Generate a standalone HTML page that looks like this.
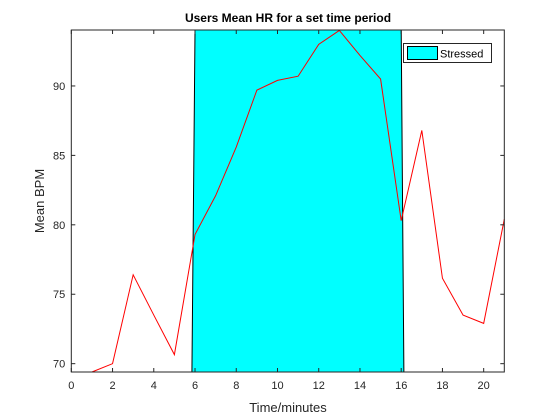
<!DOCTYPE html>
<html><head><meta charset="utf-8"><style>body{margin:0;background:#fff}svg{display:block;font-family:"Liberation Sans",Arial,sans-serif}</style></head>
<body>
<svg id="chart" width="555" height="419" viewBox="0 0 555 419" xmlns="http://www.w3.org/2000/svg"></svg>
<script>
const minutes=[1,2,3,4,5,6,7,8,9,10,11,12,13,14,15,16,17,18,19,20,21];
const meanBpm=[69.4,70.0,76.4,73.5,70.65,79.3,82.1,85.6,89.7,90.4,90.7,93.0,94.0,92.2,90.5,80.3,86.8,76.15,73.5,72.9,80.4];
const stressStart=6, stressEnd=16;
const xTicks=[0,2,4,6,8,10,12,14,16,18,20];
const yTicks=[70,75,80,85,90];
const X0=71.3,X1=504.3,Y0=372,Y1=30,xMin=0,xMax=21,yMin=69.4,yMax=94.03;
const sx=v=>X0+(v-xMin)/(xMax-xMin)*(X1-X0);
const sy=v=>Y0-(v-yMin)/(yMax-yMin)*(Y0-Y1);
const svg=document.getElementById('chart');const NS='http://www.w3.org/2000/svg';
function mk(t,a,p){const e=document.createElementNS(NS,t);for(const k in a)e.setAttribute(k,a[k]);(p||svg).appendChild(e);return e;}
let e;
e=mk('rect',{x:X0,y:Y1,width:X1-X0,height:Y0-Y1,fill:'#fff'});


e=mk('polygon',{points:`${sx(stressStart-0.15)},${Y0} ${sx(stressStart)},${Y1} ${sx(stressEnd)},${Y1} ${sx(stressEnd+0.13)},${Y0}`,fill:'#00ffff',stroke:'#000','stroke-width':1});


e=mk('polyline',{points:minutes.map((m,i)=>`${sx(m)},${sy(meanBpm[i])}`).join(' '),fill:'none',stroke:'#ff0000','stroke-width':1});


const ax=mk('g',{stroke:'#262626','stroke-width':1,fill:'none'});


mk('rect',{x:X0,y:Y1,width:X1-X0,height:Y0-Y1},ax);
xTicks.forEach(t=>{const x=sx(t);mk('line',{x1:x,y1:Y0,x2:x,y2:Y0-4},ax);mk('line',{x1:x,y1:Y1,x2:x,y2:Y1+4},ax);
e=mk('text',{x:x,y:Y0+17,'text-anchor':'middle','font-size':11,fill:'#262626'});e.textContent=t;

});
yTicks.forEach(t=>{const y=sy(t);mk('line',{x1:X0,y1:y,x2:X0+4,y2:y},ax);mk('line',{x1:X1,y1:y,x2:X1-4,y2:y},ax);
e=mk('text',{x:X0-6,y:y+4,'text-anchor':'end','font-size':11,fill:'#262626'});e.textContent=t;

});
e=mk('text',{x:288,y:22,'text-anchor':'middle','font-size':12,'font-weight':'bold',fill:'#000'});e.textContent='Users Mean HR for a set time period';


e=mk('text',{x:288,y:412,'text-anchor':'middle','font-size':13,fill:'#262626'});e.textContent='Time/minutes';


e=mk('text',{x:44,y:201,'text-anchor':'middle','font-size':13,fill:'#262626',transform:'rotate(-90 44 201)'});e.textContent='Mean BPM';


const lg=mk('g',{});


mk('rect',{x:403.5,y:43.5,width:88,height:19,fill:'#fff',stroke:'#262626'},lg);
mk('rect',{x:407.5,y:46.5,width:30,height:13,fill:'#00ffff',stroke:'#000'},lg);
e=mk('text',{x:440,y:57.5,'font-size':11,fill:'#000'},lg);e.textContent='Stressed';


</script>
</body></html>
